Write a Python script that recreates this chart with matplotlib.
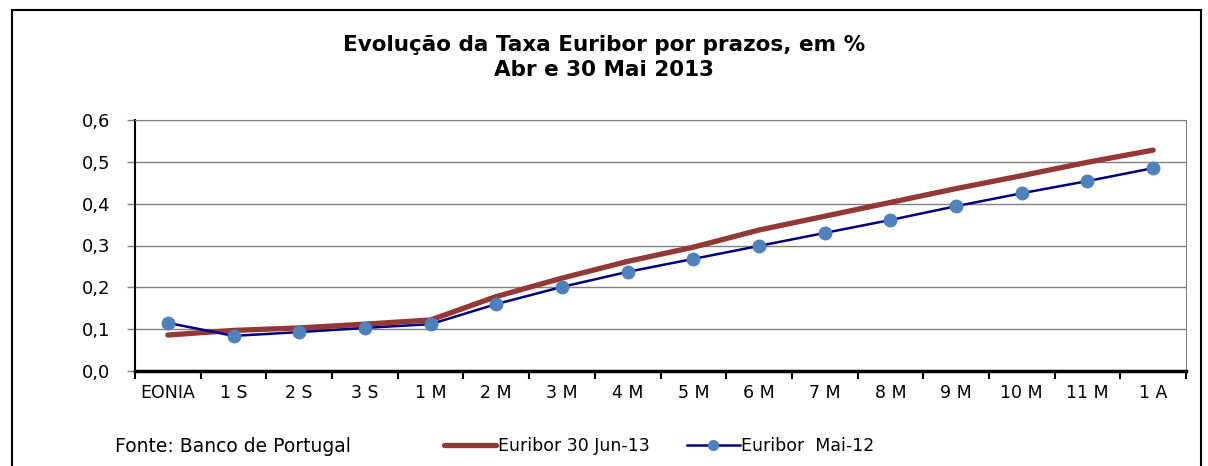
import matplotlib
matplotlib.use("Agg")
import matplotlib.pyplot as plt
from matplotlib.lines import Line2D
from matplotlib.patches import Rectangle
from matplotlib.ticker import FuncFormatter

prazos = ["EONIA", "1 S", "2 S", "3 S", "1 M", "2 M", "3 M", "4 M", "5 M",
          "6 M", "7 M", "8 M", "9 M", "10 M", "11 M", "1 A"]
euribor_jun13 = [0.086, 0.097, 0.103, 0.112, 0.122, 0.178, 0.222, 0.262,
                 0.296, 0.337, 0.370, 0.403, 0.436, 0.467, 0.499, 0.528]
euribor_mai12 = [0.115, 0.084, 0.093, 0.103, 0.112, 0.160, 0.201, 0.237,
                 0.268, 0.299, 0.330, 0.361, 0.394, 0.425, 0.454, 0.485]
y_ticks = [0.0, 0.1, 0.2, 0.3, 0.4, 0.5, 0.6]

RED = "#953735"
NAVY = "#000080"
DOT = "#4F81BD"

plt.rcParams["font.family"] = "DejaVu Sans"

fig = plt.figure(figsize=(12.08, 4.66), dpi=100)
ax = fig.add_axes([135 / 1208, 1 - 371 / 466, 1051 / 1208, 251 / 466])

x = list(range(len(prazos)))
ax.plot(x, euribor_jun13, color=RED, lw=3.8, solid_capstyle="round",
        zorder=3)
ax.plot(x, euribor_mai12, color=NAVY, lw=1.8, marker="o", ms=9,
        mfc=DOT, mec=DOT, zorder=4)

ax.set_xlim(-0.5, len(prazos) - 0.5)
ax.set_ylim(0, 0.6)
ax.set_yticks(y_ticks)
ax.yaxis.set_major_formatter(FuncFormatter(lambda v, p: f"{v:.1f}".replace(".", ",")))
ax.yaxis.grid(True, color="#808080", lw=1)
ax.set_axisbelow(True)

ax.set_xticks([i - 0.5 for i in range(len(prazos) + 1)])
ax.set_xticklabels([])
ax.set_xticks(x, minor=True)
ax.set_xticklabels(prazos, minor=True)
ax.tick_params(axis="x", which="major", length=6, width=1.5, direction="out")
ax.tick_params(axis="x", which="minor", length=0, pad=9, labelsize=12.5)
ax.tick_params(axis="y", length=6, width=1, color="#808080", pad=12,
               labelsize=13)

ax.spines["left"].set_linewidth(1.5)
ax.spines["bottom"].set_linewidth(2.5)
ax.spines["right"].set_color("#808080")
ax.spines["top"].set_color("#808080")

fig.text(0.5, 1 - 45 / 466, "Evolução da Taxa Euribor por prazos, em %",
         ha="center", va="center", fontsize=15.5, fontweight="bold")
fig.text(0.5, 1 - 70 / 466, "Abr e 30 Mai 2013",
         ha="center", va="center", fontsize=15.5, fontweight="bold")

fig.text(115 / 1208, 1 - 446 / 466, "Fonte: Banco de Portugal",
         ha="left", va="center", fontsize=13.5)

handles = [Line2D([], [], color=RED, lw=3.8, solid_capstyle="round"),
           Line2D([], [], color=NAVY, lw=1.8, marker="o", ms=7,
                  mfc=DOT, mec=DOT)]
fig.legend(handles, ["Euribor 30 Jun-13", "Euribor  Mai-12"],
           loc="center left", bbox_to_anchor=(435 / 1208, 1 - 446 / 466),
           ncol=2, frameon=False, fontsize=12.5, handlelength=3,
           handletextpad=0.1, columnspacing=2.2, borderpad=0)

fig.patches.append(Rectangle((12 / 1208, -0.1), 1189 / 1208, 1.1 - 10 / 466,
                             transform=fig.transFigure, fill=False,
                             edgecolor="black", lw=1.5))

fig.savefig("out.png", dpi=100)
